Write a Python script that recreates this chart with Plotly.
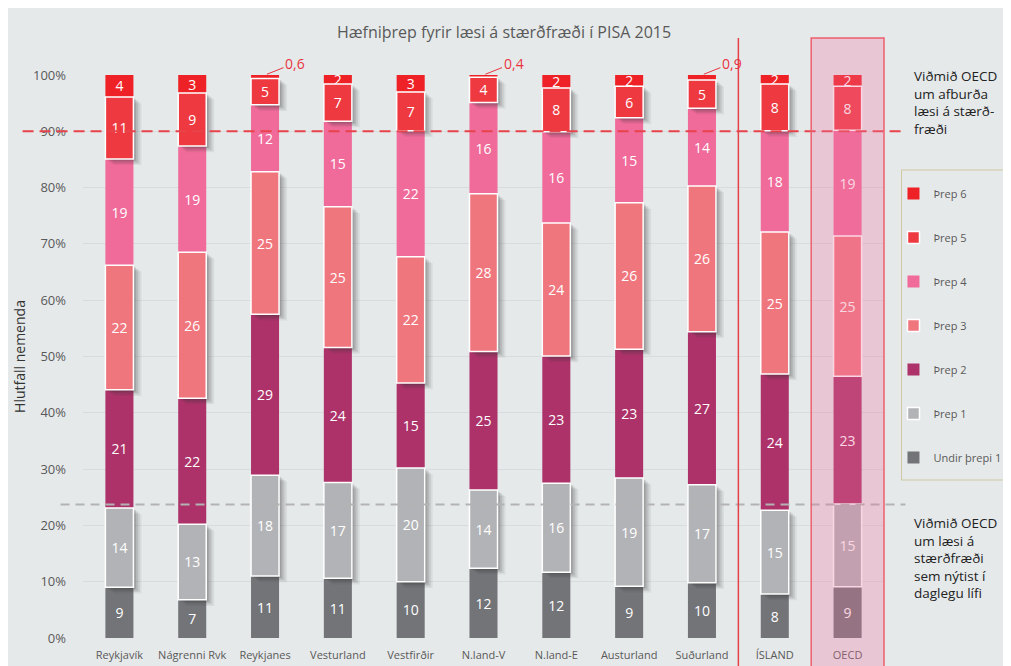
import plotly.graph_objects as go

# ---------------- data ----------------
categories = ["Reykjavík", "Nágrenni Rvk", "Reykjanes", "Vesturland", "Vestfirðir",
              "N.land-V", "N.land-E", "Austurland", "Suðurland", "ÍSLAND", "OECD"]

undir_threpi_1 = [9.0, 6.8, 11.0, 10.6, 10.0, 12.4, 11.7, 9.2, 9.8, 7.8, 9.1]
threp_1 = [14.1, 13.4, 17.9, 17.0, 20.2, 13.9, 15.8, 19.2, 17.4, 14.9, 14.7]
threp_2 = [21.0, 22.4, 28.6, 24.0, 15.1, 24.6, 22.6, 22.9, 27.2, 24.2, 22.7]
threp_3 = [22.1, 25.9, 25.3, 25.0, 22.4, 28.0, 23.6, 26.0, 25.9, 25.2, 24.9]
threp_4 = [18.9, 18.9, 11.9, 15.2, 22.4, 16.2, 16.2, 15.1, 13.8, 18.0, 18.8]
threp_5 = [11.0, 9.4, 4.7, 6.6, 6.9, 4.5, 7.8, 5.6, 5.0, 8.3, 7.8]
threp_6 = [3.9, 3.2, 0.6, 1.6, 3.0, 0.4, 2.3, 2.0, 0.9, 1.6, 2.0]

series_names = ["Undir þrepi 1", "Þrep 1", "Þrep 2", "Þrep 3", "Þrep 4", "Þrep 5", "Þrep 6"]
series_values = [undir_threpi_1, threp_1, threp_2, threp_3, threp_4, threp_5, threp_6]

y_ticks = [0, 10, 20, 30, 40, 50, 60, 70, 80, 90, 100]
y_tick_labels = [f"{t}%" for t in y_ticks]
excellence_level = 90      # Viðmið OECD um afburða læsi
baseline_level = 23.7      # Viðmið OECD um læsi sem nýtist í daglegu lífi

title_text = "Hæfniþrep fyrir læsi á stærðfræði í PISA 2015"
y_title = "Hlutfall nemenda"
note_top = "Viðmið OECD<br>um afburða<br>læsi á stærð-<br>fræði"
note_bottom = "Viðmið OECD<br>um læsi á<br>stærðfræði<br>sem nýtist í<br>daglegu lífi"

# ---------------- styles ----------------
colors = ["#737478", "#b2b3b6", "#ac3269", "#f0767e", "#f06a9a", "#ee3941", "#ee2226"]
bordered = [False, True, False, True, False, True, False]
FONT = "Open Sans, sans-serif"
BG = "#e6e9ea"
BAR_W = 0.385

W, H = 1011, 666
OFF = 8  # page body margin: page px = figure px + OFF

n = len(categories)
x_idx = list(range(n))

# cumulative bases (rounded to avoid float drift above 100)
bases = []
run = [0.0] * n
for vals in series_values:
    bases.append(run[:])
    run = [round(r + v, 6) for r, v in zip(run, vals)]
tops = run


def labels(vals):
    return [str(int(round(v))) if v >= 1 else "" for v in vals]


fig = go.Figure()

def add_main(k):
    # use rounded segment heights so the stack tops land exactly on the totals
    heights = [round(b2 - b1, 6) for b1, b2 in
               zip(bases[k], bases[k + 1] if k + 1 < len(bases) else tops)]
    fig.add_trace(go.Bar(
        x=x_idx, y=heights, base=bases[k],
        name=series_names[k], legendgroup=series_names[k], legendrank=7 - k,
        width=BAR_W, offset=-BAR_W / 2,
        marker=dict(color=colors[k],
                    line=dict(color="white", width=1.5 if bordered[k] else 0)),
        text=labels(series_values[k]), textposition="inside", textangle=0,
        insidetextanchor="middle", constraintext="none",
        textfont=dict(color="white", size=14, family=FONT),
        cliponaxis=False, hoverinfo="skip",
    ))

# non-bordered segments first
for k in range(7):
    if not bordered[k]:
        add_main(k)

# soft shadows for bordered segments (not for OECD column)
shadow_layers = [(0.110, 1.10, "rgba(55,55,55,0.07)"),
                 (0.085, 0.85, "rgba(55,55,55,0.10)"),
                 (0.060, 0.60, "rgba(55,55,55,0.13)"),
                 (0.035, 0.35, "rgba(55,55,55,0.16)"),
                 (0.015, 0.15, "rgba(55,55,55,0.18)")]
for k in range(7):
    if bordered[k]:
        for dx, dy, col in shadow_layers:
            fig.add_trace(go.Bar(
                x=x_idx[:-1], y=series_values[k][:-1],
                base=[b - dy for b in bases[k][:-1]],
                width=BAR_W, offset=-BAR_W / 2 + dx,
                marker=dict(color=col, line=dict(width=0)),
                showlegend=False, hoverinfo="skip",
            ))

# bordered segments on top
for k in range(7):
    if bordered[k]:
        add_main(k)

# small Þrep 6 values as callouts
annotations = []
for i, v in enumerate(threp_6):
    if v < 1:
        annotations.append(dict(
            x=i, y=tops[i], xref="x", yref="y",
            text=f"{v:.1f}".replace(".", ","), showarrow=True,
            arrowhead=0, arrowwidth=1, arrowcolor="#e8343f",
            ax=30, ay=-12, standoff=2,
            font=dict(color="#e8343f", size=14, family=FONT),
        ))

# plot area in page pixels
PL, PR, PT, PB = 82.5, 884.5, 75, 638
def px_x(p):
    return (p - PL) / (PR - PL)
def px_y(p):
    return (PB - p) / (PB - PT)

annotations.append(dict(
    x=px_x(913), y=px_y(102), xref="paper", yref="paper",
    text=note_top, showarrow=False, xanchor="left", yanchor="middle", align="left",
    font=dict(color="#222222", size=13.5, family=FONT),
))
annotations.append(dict(
    x=px_x(913), y=px_y(558), xref="paper", yref="paper",
    text=note_bottom, showarrow=False, xanchor="left", yanchor="middle", align="left",
    font=dict(color="#222222", size=13.5, family=FONT),
))

shapes = [
    # reference lines
    dict(type="line", xref="paper", yref="y", x0=px_x(22), x1=px_x(906),
         y0=excellence_level, y1=excellence_level,
         line=dict(color="#e8434b", width=2, dash="11px,6px")),
    dict(type="line", xref="paper", yref="y", x0=px_x(60), x1=px_x(906),
         y0=baseline_level, y1=baseline_level,
         line=dict(color="#b3b3b3", width=2, dash="9px,6px")),
    # separator before ÍSLAND
    dict(type="line", xref="paper", yref="paper",
         x0=(n - 2) / n, x1=(n - 2) / n, y0=px_y(680), y1=px_y(38),
         line=dict(color="#e5404a", width=1.5)),
    # OECD highlight
    dict(type="rect", xref="paper", yref="paper",
         x0=(n - 1) / n, x1=1.0, y0=px_y(680), y1=px_y(38),
         fillcolor="rgba(237,112,160,0.29)",
         line=dict(color="#ee5f6e", width=1.5)),
    # legend frame
    dict(type="rect", xref="paper", yref="paper",
         x0=px_x(902), x1=px_x(1010), y0=px_y(480), y1=px_y(170),
         fillcolor="rgba(0,0,0,0)", line=dict(color="#cfc8a0", width=1)),
]

fig.update_layout(
    width=W, height=H,
    margin=dict(l=PL - OFF, r=W - (PR - OFF), t=PT - OFF, b=H - (PB - OFF),
                pad=0, autoexpand=False),
    paper_bgcolor=BG, plot_bgcolor="rgba(0,0,0,0)",
    barmode="overlay",
    font=dict(family=FONT, color="#595959"),
    title=dict(text=title_text, x=(504 - OFF) / W, xref="container", xanchor="center",
               y=1 - (32 - OFF) / H, yref="container", yanchor="middle",
               font=dict(size=16, color="#595959", family=FONT)),
    xaxis=dict(
        tickmode="array", tickvals=x_idx, ticktext=categories,
        range=[-0.5, n - 0.5], showgrid=False, zeroline=False, showline=False,
        ticks="", ticklabelstandoff=9, automargin=False,
        tickfont=dict(size=11, color="#595959", family=FONT),
    ),
    yaxis=dict(
        range=[0, 100.0001], tickmode="array", tickvals=y_ticks, ticktext=y_tick_labels,
        showgrid=True, gridcolor="#d9dcde", gridwidth=1,
        zeroline=False, showline=False, ticks="", ticklabelstandoff=16,
        automargin=False,
        tickfont=dict(size=13, color="#595959", family=FONT),
        title=dict(text=y_title, standoff=4,
                   font=dict(size=14, color="#333333", family=FONT)),
    ),
    legend=dict(
        x=px_x(894), y=px_y(179), xanchor="left", yanchor="top",
        bgcolor="rgba(0,0,0,0)", borderwidth=0,
        font=dict(size=11, color="#595959", family=FONT),
        tracegroupgap=25, itemwidth=30,
    ),
    shapes=shapes,
    annotations=annotations,
    showlegend=True,
)

fig.write_html("out.html")
